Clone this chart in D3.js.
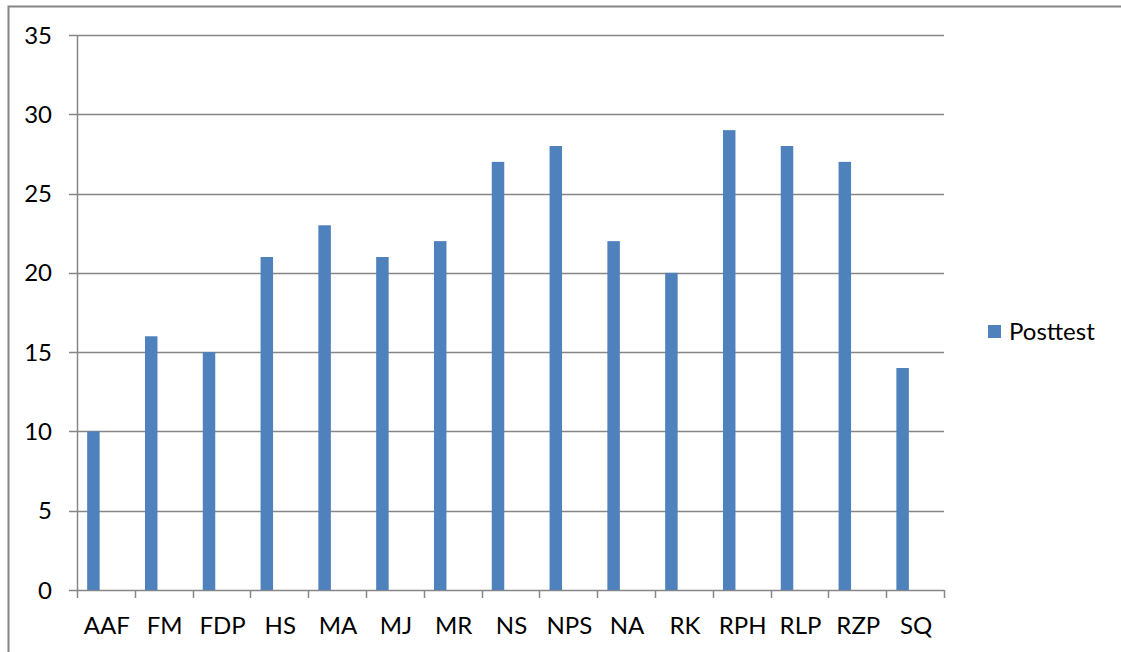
<!DOCTYPE html>
<html>
<head>
<meta charset="utf-8">
<script src="https://cdn.jsdelivr.net/npm/d3@7"></script>
<style>
  body { margin: 0; background: #fff; }
  text { font-family: Lato, "Open Sans", sans-serif; fill: #000; }
</style>
</head>
<body>
<div id="canvas"></div>
<script>
// Students on the x axis.
const categories = ["AAF", "FM", "FDP", "HS", "MA", "MJ", "MR", "NS", "NPS", "NA", "RK", "RPH", "RLP", "RZP", "SQ"];
// Posttest scores.
const posttest = [10, 16, 15, 21, 23, 21, 22, 27, 28, 22, 20, 29, 28, 27, 14];
// Y axis ticks.
const yTicks = [0, 5, 10, 15, 20, 25, 30, 35];
const seriesName = "Posttest";

const w = 1121, h = 652;
const plotLeft = 77, plotRight = 944, plotTop = 35, plotBottom = 590;
const barColor = "#4F81BD";
const lineColor = "#868686";
const fontSize = "24px";

const svg = d3.select("#canvas")
    .append("svg")
    .attr("width", w)
    .attr("height", h);

// Outer chart border (runs off the right and bottom of the picture).
svg.append("rect")
    .attr("x", 8.5)
    .attr("y", 6.5)
    .attr("width", w + 20)
    .attr("height", h + 20)
    .attr("fill", "none")
    .attr("stroke", lineColor)
    .attr("stroke-width", 2);

const xScale = d3.scaleBand()
    .domain(categories)
    .range([plotLeft, plotRight]);

const yScale = d3.scaleLinear()
    .domain([0, 35])
    .range([plotBottom, plotTop]);

// Gridlines with the little tick stubs on the left.
svg.append("g")
    .selectAll("line")
    .data(yTicks)
    .enter()
    .append("line")
    .attr("x1", plotLeft - 8)
    .attr("x2", plotRight)
    .attr("y1", d => Math.round(yScale(d)) + 0.5)
    .attr("y2", d => Math.round(yScale(d)) + 0.5)
    .attr("stroke", lineColor)
    .attr("stroke-width", 1.5);

// Y labels.
svg.append("g")
    .selectAll("text")
    .data(yTicks)
    .enter()
    .append("text")
    .text(d => d)
    .attr("x", 52)
    .attr("y", d => yScale(d))
    .attr("dy", "0.36em")
    .attr("text-anchor", "end")
    .attr("font-size", fontSize);

// Y axis line.
svg.append("line")
    .attr("x1", plotLeft + 0.5)
    .attr("x2", plotLeft + 0.5)
    .attr("y1", plotTop)
    .attr("y2", plotBottom)
    .attr("stroke", lineColor)
    .attr("stroke-width", 1.5);

// X tick marks at category boundaries.
const boundaries = categories.map(c => xScale(c)).concat([plotRight]);
svg.append("g")
    .selectAll("line")
    .data(boundaries)
    .enter()
    .append("line")
    .attr("x1", d => Math.round(d) + 0.5)
    .attr("x2", d => Math.round(d) + 0.5)
    .attr("y1", plotBottom)
    .attr("y2", plotBottom + 8)
    .attr("stroke", lineColor)
    .attr("stroke-width", 1.5);

// Bars: the series sits in the first of three slots of each category.
const barW = xScale.bandwidth() * 0.216;
svg.append("g")
    .selectAll("rect")
    .data(posttest)
    .enter()
    .append("rect")
    .attr("x", (d, i) => xScale(categories[i]) + xScale.bandwidth() / 2 - 1.5 * barW)
    .attr("y", d => yScale(d))
    .attr("width", barW)
    .attr("height", d => plotBottom - yScale(d))
    .attr("fill", barColor);

// X labels.
svg.append("g")
    .selectAll("text")
    .data(categories)
    .enter()
    .append("text")
    .text(d => d)
    .attr("x", d => xScale(d) + xScale.bandwidth() / 2 + 1)
    .attr("y", 634)
    .attr("text-anchor", "middle")
    .attr("font-size", fontSize);

// Legend.
svg.append("rect")
    .attr("x", 988)
    .attr("y", 325)
    .attr("width", 13)
    .attr("height", 13)
    .attr("fill", barColor);

svg.append("text")
    .text(seriesName)
    .attr("x", 1009)
    .attr("y", 340)
    .attr("font-size", fontSize);
</script>
</body>
</html>
